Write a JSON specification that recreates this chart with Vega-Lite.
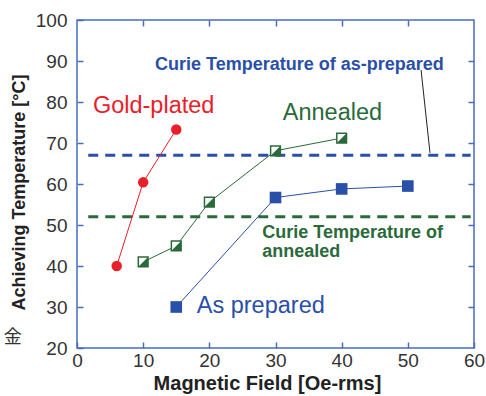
{
  "$schema": "https://vega.github.io/schema/vega-lite/v6.json",
  "width": 397,
  "height": 328,
  "autosize": "none",
  "padding": {"left": 77, "top": 20, "right": 12, "bottom": 48},
  "config": {
    "view": {"stroke": "#4a6cc0", "strokeWidth": 1.5},
    "font": "Liberation Sans"
  },
  "datasets": {
    "pts": [
      {"series": "Gold-plated", "field": 6, "temp": 40.0},
      {"series": "Gold-plated", "field": 10, "temp": 60.4},
      {"series": "Gold-plated", "field": 15, "temp": 73.3},
      {"series": "Annealed", "field": 10, "temp": 41.0},
      {"series": "Annealed", "field": 15, "temp": 44.9},
      {"series": "Annealed", "field": 20, "temp": 55.6},
      {"series": "Annealed", "field": 30, "temp": 68.1},
      {"series": "Annealed", "field": 40, "temp": 71.2},
      {"series": "As prepared", "field": 15, "temp": 30.0},
      {"series": "As prepared", "field": 30, "temp": 56.7},
      {"series": "As prepared", "field": 40, "temp": 58.8},
      {"series": "As prepared", "field": 50, "temp": 59.5}
    ],
    "curie": [
      {"series": "As prepared", "x0": 1.7, "x1": 59.5, "temp": 67},
      {"series": "Annealed", "x0": 1.7, "x1": 59.5, "temp": 52}
    ],
    "bigLabels": [
      {"series": "Gold-plated", "text": "Gold-plated", "field": 2.4, "temp": 77.3},
      {"series": "Annealed", "text": "Annealed", "field": 31.1, "temp": 75.6},
      {"series": "As prepared", "text": "As prepared", "field": 18.1, "temp": 28.5}
    ],
    "curieLabels": [
      {"series": "As prepared", "text": "Curie Temperature of as-prepared", "field": 11.8, "temp": 87.8},
      {"series": "Annealed", "text": "Curie Temperature of", "field": 28.0, "temp": 46.8},
      {"series": "Annealed", "text": "annealed", "field": 28.0, "temp": 42.3}
    ],
    "leader": [
      {"field": 52.0, "temp": 87.8, "f2": 53.35, "t2": 67.6}
    ],
    "stray": [
      {"text": "金", "field": -9.7, "temp": 22.4}
    ]
  },
  "layer": [
    {
      "data": {"name": "curie"},
      "mark": {"type": "rule", "strokeWidth": 3, "strokeDash": [10, 7]},
      "encoding": {
        "x": {"field": "x0", "type": "quantitative", "scale": {"domain": [0, 60], "nice": false},
          "axis": {"orient": "bottom", "values": [0, 10, 20, 30, 40, 50, 60], "tickSize": -6, "tickColor": "#4a6cc0", "tickWidth": 1.5,
            "domain": false, "grid": false, "labelFontSize": 19, "labelColor": "#333333", "labelPadding": 9, "labelFlush": false,
            "title": "Magnetic Field [Oe-rms]", "titleFontSize": 20, "titleFontWeight": "bold", "titleColor": "#222222", "titlePadding": 3, "titleX": 190}},
        "x2": {"field": "x1"},
        "y": {"field": "temp", "type": "quantitative", "scale": {"domain": [20, 100], "nice": false},
          "axis": {"orient": "left", "values": [20, 30, 40, 50, 60, 70, 80, 90, 100], "tickSize": -6, "tickColor": "#4a6cc0", "tickWidth": 1.5,
            "domain": false, "grid": false, "labelFontSize": 19, "labelColor": "#333333", "labelPadding": 16,
            "title": "Achieving Temperature [\u00b0C]", "titleFontSize": 18, "titleFontWeight": "bold", "titleColor": "#222222", "titlePadding": 7, "titleY": 172}},
        "color": {"field": "series", "type": "nominal", "legend": null,
          "scale": {"domain": ["Gold-plated", "Annealed", "As prepared"], "range": ["#e8202a", "#2a6a3a", "#2a4fa8"]}}
      }
    },
    {
      "data": {"name": "pts"},
      "mark": {"type": "line", "strokeWidth": 1},
      "encoding": {
        "x": {"field": "field", "type": "quantitative",
          "axis": {"orient": "top", "values": [10, 20, 30, 40, 50], "tickSize": -6, "tickColor": "#4a6cc0", "tickWidth": 1.5,
            "domain": false, "grid": false, "labels": false, "title": null}},
        "y": {"field": "temp", "type": "quantitative",
          "axis": {"orient": "right", "values": [30, 40, 50, 60, 70, 80, 90], "tickSize": -6, "tickColor": "#4a6cc0", "tickWidth": 1.5,
            "domain": false, "grid": false, "labels": false, "title": null}},
        "color": {"field": "series", "type": "nominal", "legend": null},
        "detail": {"field": "series"}
      }
    },
    {
      "data": {"name": "pts"},
      "transform": [{"filter": "datum.series === 'Gold-plated'"}],
      "mark": {"type": "point", "shape": "circle", "filled": true, "size": 110, "opacity": 1},
      "encoding": {
        "x": {"field": "field", "type": "quantitative", "axis": null},
        "y": {"field": "temp", "type": "quantitative", "axis": null},
        "color": {"field": "series", "type": "nominal", "legend": null}
      }
    },
    {
      "data": {"name": "pts"},
      "transform": [{"filter": "datum.series === 'As prepared'"}],
      "mark": {"type": "point", "shape": "square", "filled": true, "size": 135, "opacity": 1},
      "encoding": {
        "x": {"field": "field", "type": "quantitative", "axis": null},
        "y": {"field": "temp", "type": "quantitative", "axis": null},
        "color": {"field": "series", "type": "nominal", "legend": null}
      }
    },
    {
      "data": {"name": "pts"},
      "transform": [{"filter": "datum.series === 'Annealed'"}],
      "mark": {"type": "point", "shape": "square", "filled": true, "size": 95, "fill": "white", "stroke": "#2a6a3a", "strokeWidth": 1.5, "opacity": 1},
      "encoding": {
        "x": {"field": "field", "type": "quantitative", "axis": null},
        "y": {"field": "temp", "type": "quantitative", "axis": null}
      }
    },
    {
      "data": {"name": "pts"},
      "transform": [{"filter": "datum.series === 'Annealed'"}],
      "mark": {"type": "point", "shape": "M1,-1L1,1L-1,1Z", "filled": true, "size": 95, "fill": "#2a6a3a", "opacity": 1},
      "encoding": {
        "x": {"field": "field", "type": "quantitative", "axis": null},
        "y": {"field": "temp", "type": "quantitative", "axis": null}
      }
    },
    {
      "data": {"name": "leader"},
      "mark": {"type": "rule", "color": "#222222", "strokeWidth": 1},
      "encoding": {
        "x": {"field": "field", "type": "quantitative", "axis": null},
        "y": {"field": "temp", "type": "quantitative", "axis": null},
        "x2": {"field": "f2"},
        "y2": {"field": "t2"}
      }
    },
    {
      "data": {"name": "bigLabels"},
      "mark": {"type": "text", "align": "left", "baseline": "alphabetic", "fontSize": 23.5},
      "encoding": {
        "x": {"field": "field", "type": "quantitative", "axis": null},
        "y": {"field": "temp", "type": "quantitative", "axis": null},
        "text": {"field": "text"},
        "color": {"field": "series", "type": "nominal", "legend": null}
      }
    },
    {
      "data": {"name": "curieLabels"},
      "mark": {"type": "text", "align": "left", "baseline": "alphabetic", "fontSize": 18, "fontWeight": "bold"},
      "encoding": {
        "x": {"field": "field", "type": "quantitative", "axis": null},
        "y": {"field": "temp", "type": "quantitative", "axis": null},
        "text": {"field": "text"},
        "color": {"field": "series", "type": "nominal", "legend": null}
      }
    },
    {
      "data": {"name": "stray"},
      "mark": {"type": "text", "align": "center", "baseline": "middle", "fontSize": 18, "font": "Noto Sans CJK JP", "color": "#333333"},
      "encoding": {
        "x": {"field": "field", "type": "quantitative", "axis": null},
        "y": {"field": "temp", "type": "quantitative", "axis": null},
        "text": {"field": "text"}
      }
    }
  ],
  "resolve": {"axis": {"x": "independent", "y": "independent"}}
}
